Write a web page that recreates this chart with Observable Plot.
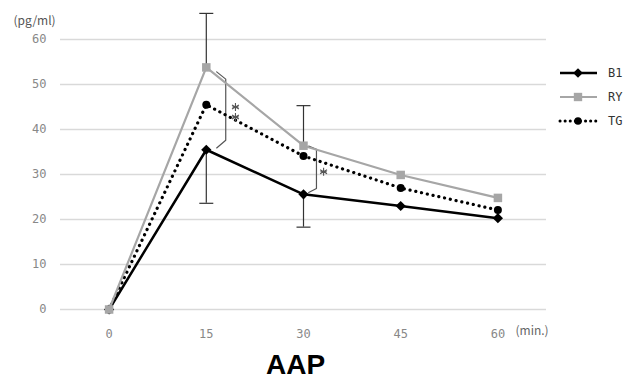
<!DOCTYPE html>
<html>
<head>
<meta charset="utf-8">
<script src="https://cdn.jsdelivr.net/npm/d3@7"></script>
<script src="https://cdn.jsdelivr.net/npm/@observablehq/plot@0.6"></script>
<style>
  html, body { margin: 0; padding: 0; background: #fff; }
  #wrap { position: relative; width: 637px; height: 387px; }
  #legend { position: absolute; left: 555px; top: 60px; }
</style>
</head>
<body>
<div id="wrap"><div id="chart"></div><div id="legend"></div></div>
<script>
// ---- data ----
const minutes = [0, 15, 30, 45, 60];
const seriesNames = ["B1", "RY", "TG"];
const b1 = [0, 35.5, 25.6, 23.0, 20.3];
const ry = [0, 53.8, 36.4, 29.9, 24.8];
const tg = [0, 45.5, 34.1, 27.0, 22.1];
const ryUpper = [null, 65.8, 45.3, null, null];
const b1Lower = [null, 23.6, 18.3, null, null];
const yTicks = [0, 10, 20, 30, 40, 50, 60];
const bracket15x = [16.6, 18.0, 18.0, 16.6];
const bracket15y = [52.8, 51.2, 37.6, 35.9];
const bracket30x = [30.8, 32.0, 32.0, 30.8];
const bracket30y = [36.3, 35.6, 26.9, 26.0];
const starX = [19.5, 19.5, 33.1];
const starY = [45.0, 42.8, 30.6];

const rows = (vals, name) => minutes.map((m, i) => ({x: m, y: vals[i], s: name}));
const B1 = rows(b1, "B1"), RY = rows(ry, "RY"), TG = rows(tg, "TG");
const errs = [];
minutes.forEach((m, i) => {
  if (ryUpper[i] != null) errs.push({x: m, y1: ry[i], y2: ryUpper[i]});
  if (b1Lower[i] != null) errs.push({x: m, y1: b1[i], y2: b1Lower[i]});
});
const br15 = bracket15x.map((x, i) => ({x, y: bracket15y[i]}));
const br30 = bracket30x.map((x, i) => ({x, y: bracket30y[i]}));
const stars = starX.map((x, i) => ({x, y: starY[i]}));

const capSymbol = {draw(ctx, size) { ctx.moveTo(-7, 0); ctx.lineTo(7, 0); }};
const starSymbol = {draw(ctx, size) {
  const r = 4;
  for (let k = 0; k < 3; k++) {
    const a = Math.PI / 2 + k * Math.PI / 3;
    ctx.moveTo(r * Math.cos(a), r * Math.sin(a));
    ctx.lineTo(-r * Math.cos(a), -r * Math.sin(a));
  }
  ctx.moveTo(-3.2, 0); ctx.lineTo(3.2, 0);
}};
const tickFont = "'DejaVu Sans Mono', monospace";

const chart = Plot.plot({
  width: 637, height: 387,
  marginLeft: 60, marginRight: 91, marginTop: 39, marginBottom: 78,
  style: {background: "#fff", fontFamily: "'Noto Sans CJK JP', sans-serif", fontSize: "12px", color: "#888"},
  x: {type: "linear", domain: [-7.5, 67.5]},
  y: {domain: [0, 60]},
  marks: [
    Plot.gridY(yTicks, {stroke: "#d9d9d9", strokeOpacity: 1, strokeWidth: 1.5}),
    Plot.axisX(minutes, {tickSize: 0, tickPadding: 0, dy: 25, lineAnchor: "middle", fill: "#888", fontFamily: tickFont, fontSize: 12, label: null}),
    Plot.axisY(yTicks, {tickSize: 0, tickPadding: 14, fill: "#888", fontFamily: tickFont, fontSize: 12, label: null}),
    Plot.text(["(pg/ml)"], {frameAnchor: "top-left", textAnchor: "start", dx: -47, dy: -23, fill: "#555", fontSize: 12}),
    Plot.text(["(min.)"], {frameAnchor: "bottom-right", textAnchor: "start", dx: -31, dy: 25, fill: "#666", fontSize: 12}),
    Plot.text(["AAP"], {frameAnchor: "bottom", dx: -8, dy: 64, fill: "#000", fontSize: 28, fontWeight: "bold", fontFamily: "'Liberation Sans', Arial, sans-serif", letterSpacing: "-1px"}),
    // error bars
    Plot.ruleX(errs, {x: "x", y1: "y1", y2: "y2", stroke: "#333", strokeWidth: 1.2}),
    Plot.dot(errs, {x: "x", y: "y2", symbol: capSymbol, stroke: "#333", strokeWidth: 1.2}),
    // brackets
    Plot.line(br15, {x: "x", y: "y", stroke: "#555", strokeWidth: 1.2}),
    Plot.line(br30, {x: "x", y: "y", stroke: "#555", strokeWidth: 1.2}),
    // series
    Plot.line(B1, {x: "x", y: "y", stroke: "#000", strokeWidth: 2.5}),
    Plot.dot(B1, {x: "x", y: "y", symbol: "diamond2", r: 4.6, fill: "#000", stroke: "none"}),
    Plot.line(TG, {x: "x", y: "y", stroke: "#000", strokeWidth: 3.2, strokeDasharray: "0.1 5.8", strokeLinecap: "round"}),
    Plot.dot(TG, {x: "x", y: "y", symbol: "circle", r: 4, fill: "#000"}),
    Plot.line(RY, {x: "x", y: "y", stroke: "#a6a6a6", strokeWidth: 2.2}),
    Plot.dot(RY, {x: "x", y: "y", symbol: "square", r: 4.8, fill: "#a6a6a6"}),
    // significance asterisks
    Plot.dot(stars, {x: "x", y: "y", symbol: starSymbol, stroke: "#555", strokeWidth: 1.1})
  ]
});
document.getElementById("chart").appendChild(chart);

// legend
const legendStyles = {
  B1: {stroke: "#000", width: 2.5, dash: null, sym: d3.symbolDiamond2, fill: "#000", size: 60},
  RY: {stroke: "#a6a6a6", width: 2.2, dash: null, sym: d3.symbolSquare, fill: "#a6a6a6", size: 70},
  TG: {stroke: "#000", width: 3, dash: "0.1 5", sym: d3.symbolCircle, fill: "#000", size: 45}
};
const lsvg = d3.select("#legend").append("svg").attr("width", 80).attr("height", 80);
seriesNames.forEach((name, i) => {
  const st = legendStyles[name];
  const g = lsvg.append("g").attr("transform", `translate(0,${13 + i * 24})`);
  g.append("line").attr("x1", 5).attr("x2", 42).attr("stroke", st.stroke)
    .attr("stroke-width", st.width).attr("stroke-dasharray", st.dash).attr("stroke-linecap", st.dash ? "round" : "butt");
  g.append("path").attr("d", d3.symbol(st.sym, st.size)()).attr("transform", "translate(23,0)").attr("fill", st.fill);
  g.append("text").attr("x", 53).attr("dy", "0.35em").attr("fill", "#333")
    .attr("font-family", tickFont).attr("font-size", 12).text(name);
});
</script>
</body>
</html>
